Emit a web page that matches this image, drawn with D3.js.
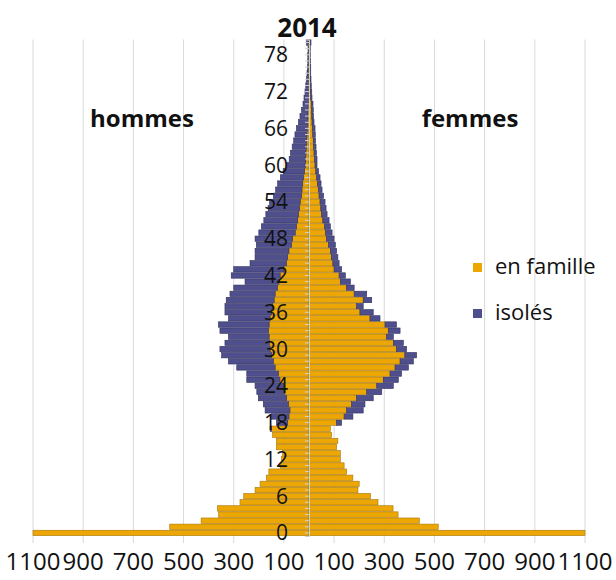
<!DOCTYPE html>
<html>
<head>
<meta charset="utf-8">
<script src="https://cdn.jsdelivr.net/npm/d3@7"></script>
<style>
  body { margin: 0; background: #ffffff; }
  text { font-family: "Open Sans", "Noto Sans", sans-serif; fill: #111111; }
</style>
</head>
<body>
<div id="pyramid"></div>
<script>

// ages 0 .. 80, one bar per age
var ages = d3.range(0, 81);

// labels shown on the age axis
var ageLabels = [0, 6, 12, 18, 24, 30, 36, 42, 48, 54, 60, 66, 72, 78];

// value axis ticks (shown as absolute numbers on both sides)
var valueTicks = [-1100, -900, -700, -500, -300, -100, 100, 300, 500, 700, 900, 1100];

// hommes, en famille (age 0 .. 80)
var hommesFamille = [1100, 555, 430, 360, 365, 275, 260, 215, 195, 170,
  160, 115, 110, 105, 130, 130, 145, 150, 85, 80,
  76, 82, 89, 96, 102, 116, 122, 135, 142, 149,
  155, 158, 159, 162, 159, 155, 149, 145, 139, 135,
  126, 120, 115, 100, 90, 85, 80, 70, 65, 55,
  50, 45, 42, 38, 35, 30, 28, 25, 22, 18,
  15, 13, 12, 10, 9, 8, 7, 6, 5, 4,
  3, 2, 2, 2, 2, 2, 2, 1, 1, 1, 2];

// hommes, isolés
var hommesIsoles = [0, 0, 0, 0, 0, 0, 0, 0, 0, 0,
  0, 0, 0, 0, 0, 0, 0, 5, 45, 70,
  99, 100, 113, 112, 113, 132, 126, 153, 179, 199,
  200, 177, 162, 193, 202, 166, 186, 190, 191, 180,
  174, 135, 195, 200, 145, 130, 135, 140, 150, 145,
  140, 135, 130, 125, 122, 112, 105, 100, 92, 85,
  76, 66, 62, 57, 52, 48, 43, 36, 31, 26,
  21, 18, 14, 11, 8, 6, 4, 4, 4, 3, 8];

// femmes, en famille
var femmesFamille = [1100, 515, 440, 355, 335, 275, 245, 195, 200, 175,
  150, 140, 125, 125, 110, 115, 90, 85, 110, 140,
  150, 170, 190, 230, 270, 296, 323, 343, 363, 382,
  349, 336, 309, 316, 303, 243, 203, 190, 216, 180,
  150, 125, 120, 100, 95, 90, 85, 78, 70, 66,
  62, 55, 50, 47, 44, 40, 37, 34, 30, 27,
  24, 22, 20, 18, 17, 15, 14, 12, 11, 10,
  9, 7, 6, 5, 4, 3, 3, 3, 3, 3, 3];

// femmes, isolés
var femmesIsoles = [0, 0, 0, 0, 0, 0, 0, 0, 0, 0,
  0, 0, 0, 0, 0, 0, 0, 0, 20, 35,
  66, 53, 66, 60, 66, 60, 46, 53, 53, 47,
  40, 40, 27, 47, 46, 40, 53, 26, 34, 50,
  30, 40, 25, 30, 25, 25, 25, 27, 30, 26,
  23, 25, 22, 21, 20, 18, 15, 14, 14, 11,
  8, 10, 10, 10, 9, 10, 10, 8, 7, 7,
  7, 5, 5, 4, 4, 4, 4, 3, 2, 2, 5];

var orange = "#EDA705";
var orangeEdge = "#A77606";
var blue = "#4F4F8E";
var blueEdge = "#31315F";

var width = 616;
var height = 580;
var plot = {left: 33, right: 585, top: 39.5, bottom: 536};

var svg = d3.select("#pyramid").append("svg")
    .attr("width", width)
    .attr("height", height);

// value scale: negative = hommes, positive = femmes
var xScale = d3.scaleLinear()
    .domain([-1100, 1100])
    .range([plot.left, plot.right])
    .clamp(true);

// age scale, 0 at the bottom
var yScale = d3.scaleBand()
    .domain(ages.slice().reverse())
    .range([plot.top, plot.bottom])
    .paddingInner(0.12)
    .paddingOuter(0.06);

// vertical gridlines
svg.append("g")
    .selectAll("line")
    .data(valueTicks)
    .enter()
    .append("line")
    .attr("x1", function(d) { return xScale(d); })
    .attr("x2", function(d) { return xScale(d); })
    .attr("y1", plot.top)
    .attr("y2", plot.bottom + 7)
    .attr("stroke", "#d9d9d9")
    .attr("stroke-width", 1);

// build one list of rectangles for the four series
var bars = [];
ages.forEach(function(age, i) {
  bars.push({age: age, x0: 0, x1: -hommesFamille[i], fill: orange, edge: orangeEdge});
  bars.push({age: age, x0: -hommesFamille[i], x1: -hommesFamille[i] - hommesIsoles[i], fill: blue, edge: blueEdge});
  bars.push({age: age, x0: 0, x1: femmesFamille[i], fill: orange, edge: orangeEdge});
  bars.push({age: age, x0: femmesFamille[i], x1: femmesFamille[i] + femmesIsoles[i], fill: blue, edge: blueEdge});
});

svg.append("g")
    .selectAll("rect")
    .data(bars.filter(function(d) { return d.x0 != d.x1; }))
    .enter()
    .append("rect")
    .attr("x", function(d) { return Math.min(xScale(d.x0), xScale(d.x1)); })
    .attr("width", function(d) { return Math.abs(xScale(d.x1) - xScale(d.x0)); })
    .attr("y", function(d) { return yScale(d.age); })
    .attr("height", yScale.bandwidth())
    .attr("fill", function(d) { return d.fill; })
    .attr("stroke", function(d) { return d.edge; })
    .attr("stroke-width", 0.6);

// age axis at zero, tick mark for every age
var ageTicks = svg.append("g")
    .attr("transform", "translate(" + xScale(0) + ",0)")
    .call(d3.axisLeft(yScale).tickSize(4).tickFormat(""));
ageTicks.select(".domain").attr("stroke", "#cfcfcf");
ageTicks.selectAll(".tick line").attr("stroke", "#cfcfcf");

// age labels every 6 years
svg.append("g")
    .selectAll("text")
    .data(ageLabels)
    .enter()
    .append("text")
    .attr("x", 288)
    .attr("y", function(d) { return yScale(d) + yScale.bandwidth() / 2; })
    .attr("dy", "0.36em")
    .attr("text-anchor", "end")
    .style("font-size", "21px")
    .text(function(d) { return d; });

// value labels at the bottom
svg.append("g")
    .selectAll("text")
    .data(valueTicks)
    .enter()
    .append("text")
    .attr("x", function(d) { return xScale(d); })
    .attr("y", 570)
    .attr("text-anchor", "middle")
    .style("font-size", "24px")
    .text(function(d) { return Math.abs(d); });

// title and side labels
svg.append("text")
    .attr("x", 307)
    .attr("y", 37)
    .attr("text-anchor", "middle")
    .style("font-size", "26px")
    .style("font-weight", "bold")
    .text("2014");

svg.append("text")
    .attr("x", 142)
    .attr("y", 127)
    .attr("text-anchor", "middle")
    .style("font-size", "24px")
    .style("font-weight", "bold")
    .text("hommes");

svg.append("text")
    .attr("x", 470)
    .attr("y", 127)
    .attr("text-anchor", "middle")
    .style("font-size", "24px")
    .style("font-weight", "bold")
    .text("femmes");

// legend
var legendItems = [{name: "en famille", color: orange, y: 263}, {name: "isolés", color: blue, y: 309}];

var legend = svg.selectAll(".legend")
    .data(legendItems)
    .enter()
    .append("g")
    .attr("class", "legend");

legend.append("rect")
    .attr("x", 473)
    .attr("y", function(d) { return d.y; })
    .attr("width", 9)
    .attr("height", 9)
    .attr("fill", function(d) { return d.color; });

legend.append("text")
    .attr("x", 495)
    .attr("y", function(d) { return d.y + 11; })
    .style("font-size", "22px")
    .text(function(d) { return d.name; });

</script>
</body>
</html>
